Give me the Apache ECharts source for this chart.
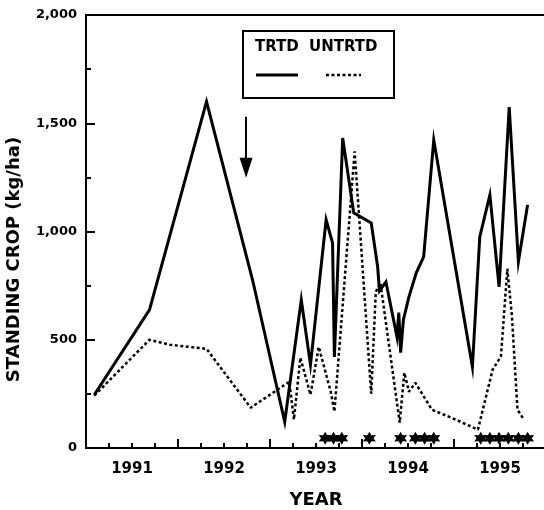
<!DOCTYPE html>
<html>
<head>
<meta charset="utf-8">
<script src="https://cdn.jsdelivr.net/npm/echarts@6/dist/echarts.min.js"></script>
<style>
html,body{margin:0;padding:0;background:#fff;}
#chart{width:544px;height:510px;}
</style>
</head>
<body>
<div id="chart"></div>
<script>
// ---- data ----
const yearLabels = ['1991', '1992', '1993', '1994', '1995'];
const yTickLabels = ['0', '500', '1,000', '1,500', '2,000'];

const trtdYear = [1991.09, 1991.69, 1992.31, 1992.81, 1993.16, 1993.34, 1993.44, 1993.61, 1993.68, 1993.70,
  1993.79, 1993.91, 1994.10, 1994.17, 1994.19, 1994.26, 1994.38, 1994.40, 1994.42, 1994.45,
  1994.51, 1994.59, 1994.67, 1994.78, 1995.20, 1995.28, 1995.39, 1995.49, 1995.60, 1995.70, 1995.80];
const trtdValue = [246, 638, 1600, 777, 121, 684, 385, 1054, 947, 421,
  1432, 1086, 1040, 837, 726, 767, 514, 625, 440, 592,
  698, 809, 883, 1423, 375, 975, 1169, 744, 1575, 861, 1123];

const untrtdYear = [1991.09, 1991.69, 1991.91, 1992.31, 1992.79, 1993.21, 1993.26, 1993.33, 1993.44, 1993.53,
  1993.66, 1993.70, 1993.92, 1994.10, 1994.15, 1994.20, 1994.41, 1994.46, 1994.51, 1994.58,
  1994.76, 1995.02, 1995.26, 1995.42, 1995.51, 1995.58, 1995.63, 1995.69, 1995.76];
const untrtdValue = [242, 500, 477, 458, 186, 306, 131, 417, 246, 467,
  261, 168, 1370, 251, 721, 763, 117, 348, 260, 301,
  177, 131, 85, 362, 423, 828, 606, 177, 131];

// significance markers (asterisks)
const starYear = [1993.60, 1993.69, 1993.78, 1994.08, 1994.42, 1994.58, 1994.68, 1994.78,
  1995.29, 1995.39, 1995.49, 1995.59, 1995.70, 1995.80];
const starValue = [45, 45, 45, 45, 45, 45, 45, 45, 45, 45, 45, 45, 45, 45];

// arrow annotation (treatment)
const arrowYear = [1992.74, 1992.74];
const arrowValue = [1530, 1294];

const legendNames = ['TRTD', 'UNTRTD'];

// ---- chart ----
const FONT = '"DejaVu Sans", "Liberation Sans", Arial, sans-serif';
const pair = (xs, ys) => xs.map((x, i) => [x, ys[i]]);

const starPath = (function () {
  const pts = [];
  const n = 6;
  for (let i = 0; i < 2 * n; i++) {
    const r = i % 2 ? 0.55 : 1;
    const a = Math.PI * i / n - Math.PI / 2;
    pts.push((50 + 50 * r * Math.cos(a)).toFixed(1) + ',' + (50 + 50 * r * Math.sin(a)).toFixed(1));
  }
  return 'path://M' + pts.join('L') + 'Z';
})();

const chart = echarts.init(document.getElementById('chart'), null, { renderer: 'canvas' });

const option = {
  backgroundColor: '#fff',
  animation: false,
  grid: {
    left: 86, top: 15, right: -2, bottom: 62,
    containLabel: false, outerBoundsMode: 'none',
    show: true, borderColor: '#000', borderWidth: 2, backgroundColor: 'transparent'
  },
  xAxis: [
    {
      type: 'value', min: 1991, max: 1996, interval: 1,
      position: 'bottom',
      name: 'YEAR', nameLocation: 'middle', nameGap: 43,
      nameTextStyle: { fontFamily: FONT, fontWeight: 'bold', fontSize: 18, color: '#000' },
      axisLine: { show: true, onZero: false, lineStyle: { color: '#000', width: 2 } },
      axisTick: { show: true, inside: true, length: 9, lineStyle: { color: '#000', width: 2 } },
      minorTick: { show: true, splitNumber: 4, length: 5, lineStyle: { color: '#000', width: 2 } },
      axisLabel: { show: false },
      splitLine: { show: false }, minorSplitLine: { show: false }
    },
    {
      type: 'value', min: 1991, max: 1996, interval: 0.5,
      position: 'bottom',
      axisLine: { show: false }, axisTick: { show: false },
      splitLine: { show: false },
      axisLabel: {
        show: true, margin: 14,
        fontFamily: FONT, fontWeight: 'bold', fontSize: 15, color: '#000',
        formatter: function (v) {
          const frac = Math.round((v - Math.floor(v)) * 100);
          if (frac !== 50) return '';
          const idx = Math.floor(v) - 1991;
          return yearLabels[idx] || '';
        }
      }
    }
  ],
  yAxis: {
    type: 'value', min: 0, max: 2000, interval: 500,
    name: 'STANDING CROP (kg/ha)', nameLocation: 'middle', nameGap: 63, nameRotate: 90,
    nameTextStyle: { fontFamily: FONT, fontWeight: 'bold', fontSize: 18, color: '#000', padding: [0, 56, 0, 0] },
    axisLine: { show: true, lineStyle: { color: '#000', width: 2 } },
    axisTick: { show: true, inside: true, length: 9, lineStyle: { color: '#000', width: 2 } },
    minorTick: { show: true, splitNumber: 2, length: 5, lineStyle: { color: '#000', width: 2 } },
    splitLine: { show: false }, minorSplitLine: { show: false },
    axisLabel: {
      margin: 9, fontFamily: FONT, fontWeight: 'bold', fontSize: 13, color: '#000',
      formatter: function (v) { return yTickLabels[Math.round(v / 500)]; }
    }
  },
  series: [
    {
      name: legendNames[0], type: 'line', xAxisIndex: 0,
      data: pair(trtdYear, trtdValue),
      showSymbol: false, symbol: 'none',
      lineStyle: { color: '#000', width: 3, type: 'solid', join: 'miter' },
      z: 3
    },
    {
      name: legendNames[1], type: 'line', xAxisIndex: 0,
      data: pair(untrtdYear, untrtdValue),
      showSymbol: false, symbol: 'none',
      lineStyle: { color: '#000', width: 2.5, type: [3, 2.5] },
      z: 2
    },
    {
      name: 'signif', type: 'scatter', xAxisIndex: 0,
      data: pair(starYear, starValue),
      symbol: starPath, symbolSize: 13,
      itemStyle: { color: '#000', opacity: 1 },
      z: 4
    },
    {
      name: 'arrow', type: 'line', xAxisIndex: 0,
      data: [],
      markLine: {
        silent: true, symbol: ['none', 'triangle'], symbolSize: [13, 20],
        label: { show: false },
        lineStyle: { color: '#000', width: 2, type: 'solid' },
        data: [[
          { coord: [arrowYear[0], arrowValue[0]] },
          { coord: [arrowYear[1], arrowValue[1]] }
        ]]
      }
    }
  ],
  graphic: [
    {
      type: 'rect', left: 242, top: 30, z: 10,
      shape: { width: 151, height: 67 },
      style: { fill: '#fff', stroke: '#000', lineWidth: 2 }
    },
    {
      type: 'text', left: 255, top: 40, z: 11,
      style: { text: legendNames[0], font: 'bold 15px ' + FONT, fill: '#000' }
    },
    {
      type: 'text', left: 309, top: 40, z: 11,
      style: { text: legendNames[1], font: 'bold 15px ' + FONT, fill: '#000' }
    },
    {
      type: 'line', z: 11,
      shape: { x1: 256, y1: 75, x2: 298, y2: 75 },
      style: { stroke: '#000', lineWidth: 3 }
    },
    {
      type: 'line', z: 11,
      shape: { x1: 326, y1: 75, x2: 361, y2: 75 },
      style: { stroke: '#000', lineWidth: 2.5, lineDash: [3, 2.5] }
    }
  ]
};
chart.setOption(option);
</script>
</body>
</html>
